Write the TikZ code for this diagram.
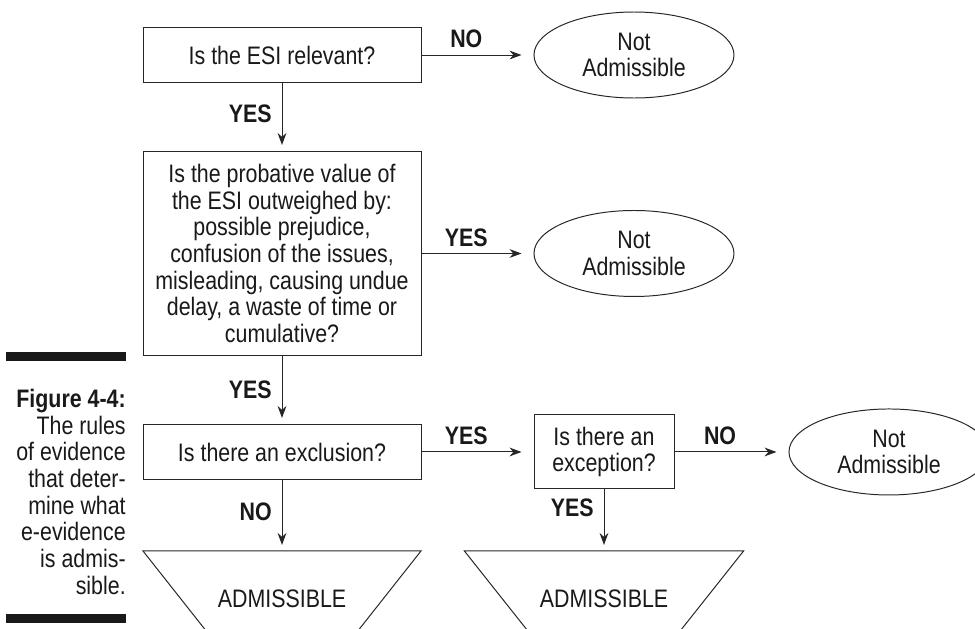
\documentclass[tikz,border=0pt]{standalone}
\usepackage{fontspec}
\setmainfont{Liberation Sans}[FakeStretch=0.845]
\usepackage{tikz}
\usetikzlibrary{shapes.geometric, arrows.meta, positioning}
\newcommand{\flowfont}{\fontsize{18}{19}\selectfont}

\begin{document}
\begin{tikzpicture}[
    node distance=1.7cm and 2.8cm,
    box/.style={rectangle, draw=black!85, line width=0.7pt,
                fill=white, align=center, font=\flowfont, text=black!90,
                inner sep=0pt, minimum width=6.95cm, minimum height=1.375cm},
    outcome/.style={ellipse, draw=black!85, line width=0.7pt,
                align=center, font=\flowfont, text=black!90,
                inner sep=0pt, minimum width=5.0cm, minimum height=2.15cm},
    arrow/.style={-{Stealth[length=0.3cm, width=0.22cm]}, line width=0.7pt,
                draw=black!85, shorten >=0.15cm},
    sidearrow/.style={arrow, shorten >=0.3cm},
    answer/.style={font=\flowfont\bfseries, text=black!90, inner sep=3pt},
    funnel/.style={draw=black!85, line width=0.7pt}
]
\useasboundingbox (0,0) rectangle (24.375,-15.7);
\clip (0,0) rectangle (24.375,-15.7);

% Relevance test
\node[box] (relevant) at (7.05,-1.375) {Is the ESI relevant?};
\node[outcome, right=2.8cm of relevant] (notadm1) {Not\\Admissible};
\draw[sidearrow] (relevant) -- node[answer, above=1.5pt, pos=0.4] {NO} (notadm1);

% Probative value test
\node[box, below=1.7cm of relevant, minimum height=5.1cm] (probative)
    {Is the probative value of\\the ESI outweighed by:\\possible prejudice,\\confusion of the issues,\\misleading, causing undue\\delay, a waste of time or\\cumulative?};
\node[outcome, right=2.8cm of probative] (notadm2) {Not\\Admissible};
\draw[arrow] (relevant) -- node[answer, left=4pt, pos=0.45] {YES} (probative);
\draw[sidearrow] (probative) -- node[answer, above=1.5pt, pos=0.4] {YES} (notadm2);

% Exclusion and exception
\node[box, below=1.7cm of probative] (exclusion) {Is there an exclusion?};
\node[box, right=2.8cm of exclusion, minimum width=3.5cm, minimum height=1.85cm] (exception)
    {Is there an\\exception?};
\node[outcome, right=2.85cm of exception] (notadm3) {Not\\Admissible};
\draw[arrow] (probative) -- node[answer, left=4pt, pos=0.5] {YES} (exclusion);
\draw[sidearrow] (exclusion) -- node[answer, above=1.5pt, pos=0.4] {YES} (exception);
\draw[sidearrow] (exception) -- node[answer, above=1.5pt, pos=0.4] {NO} (notadm3);

% Admissible funnels
\coordinate[below=1.775cm of exclusion] (adm1top);
\coordinate (adm2top) at (exception |- adm1top);
\draw[funnel] ([xshift=-3.475cm]adm1top) -- ([xshift=3.475cm]adm1top)
    -- ([yshift=-4.4cm]adm1top) -- cycle;
\draw[funnel] ([xshift=-3.49cm]adm2top) -- ([xshift=3.49cm]adm2top)
    -- ([yshift=-4.4cm]adm2top) -- cycle;
\node[font=\flowfont, text=black!90] (adm1) at ([yshift=-1.2cm]adm1top) {ADMISSIBLE};
\node[font=\flowfont, text=black!90] (adm2) at ([yshift=-1.2cm]adm2top) {ADMISSIBLE};
\draw[arrow] (exclusion) -- node[answer, left=4pt, pos=0.45] {NO} (adm1top);
\draw[arrow] (exception) -- node[answer, left=4pt, pos=0.3] {YES} (adm2top);

% Figure caption
\fill[black!90] (0.15,-8.8) rectangle (3.15,-9.025);
\fill[black!90] (0.15,-15.35) rectangle (3.15,-15.575);
\node[font=\flowfont, text=black!90, align=right, inner sep=0pt, anchor=north east] (caption)
    at (3.15,-9.72) {\textbf{Figure 4-4:}\\The rules\\of evidence\\that deter-\\mine what\\e-evidence\\is admis-\\sible.};

\end{tikzpicture}
\end{document}
